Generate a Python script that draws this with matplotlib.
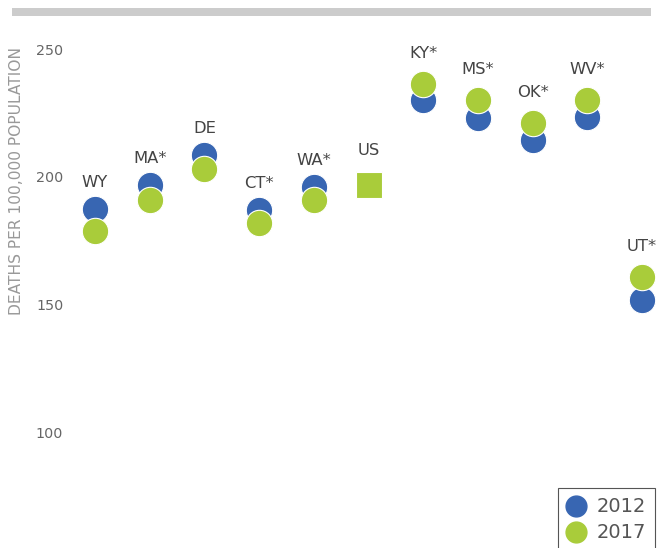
import matplotlib
matplotlib.use("Agg")
import matplotlib.pyplot as plt
from matplotlib.patches import Rectangle
from matplotlib.lines import Line2D

states = ["WY", "MA*", "DE", "CT*", "WA*", "US", "KY*", "MS*", "OK*", "WV*", "UT*"]
v2012 = [187.5, 196.9, 208.6, 187.1, 196.0, 197.2, 230.1, 222.9, 214.5, 223.3, 151.6]
v2017 = [178.9, 191.0, 203.0, 181.9, 190.8, 196.8, 236.3, 230.1, 221.2, 230.1, 160.7]
yticks = [100, 150, 200, 250]
series_labels = ["2012", "2017"]

BLUE = "#3866b2"
GREEN = "#a9cc3a"

W, H = 661, 548
fig = plt.figure(figsize=(W / 100, H / 100), dpi=100)

left_px = 66
ax = fig.add_axes([left_px / W, 0, 1 - left_px / W, 1])
x0_px, dx_px = 95, 54.7
ax.set_xlim((left_px - x0_px) / dx_px, (W - x0_px) / dx_px)
y250_px, px_per_unit = 49, 2.555
ax.set_ylim(250 - (H - y250_px) / px_per_unit, 250 + y250_px / px_per_unit)

for s in ax.spines.values():
    s.set_visible(False)
ax.set_xticks([])
ax.set_yticks(yticks)
ax.set_yticklabels([str(t) for t in yticks], fontsize=10.3, color="#666666")
ax.tick_params(axis="y", length=0, pad=2)

ms = 19
for i, st in enumerate(states):
    marker = "s" if st == "US" else "o"
    ax.plot(i, v2012[i], marker=marker, ms=ms, color=BLUE, mec="white", mew=0.8, zorder=3)
    ax.plot(i, v2017[i], marker=marker, ms=ms, color=GREEN, mec="white", mew=0.8, zorder=4)
    top = max(v2012[i], v2017[i])
    if st == "US":
        off = 24
    elif v2012[i] >= v2017[i]:
        off = 19
    else:
        off = 22
    ax.annotate(st, (i, top), xytext=(0, off), textcoords="offset points",
                ha="center", va="center", fontsize=11.8, color="#444444")

fig.text(17 / W, 1 - 181 / H, "DEATHS PER 100,000 POPULATION", rotation=90,
         ha="center", va="center", fontsize=11.2, color="#999999")

fig.patches.append(Rectangle((12 / W, 1 - 16 / H), (651 - 12) / W, 8 / H,
                             transform=fig.transFigure, facecolor="#cccccc",
                             edgecolor="none"))

# legend (box runs off the bottom edge, as in the reference)
fig.patches.append(Rectangle((558 / W, 1 - 570 / H), (655 - 558) / W, (570 - 488) / H,
                             transform=fig.transFigure, facecolor="white",
                             edgecolor="#555555", linewidth=0.8, zorder=5))
for (lab, col, ypx) in zip(series_labels, [BLUE, GREEN], [506, 532]):
    fig.add_artist(Line2D([576 / W], [1 - ypx / H], transform=fig.transFigure,
                          ls="none", marker="o", ms=15, color=col, zorder=6))
    fig.text(597 / W, 1 - ypx / H, lab, ha="left", va="center", fontsize=14,
             color="#555555", zorder=6)

fig.savefig("out.png", dpi=100)
